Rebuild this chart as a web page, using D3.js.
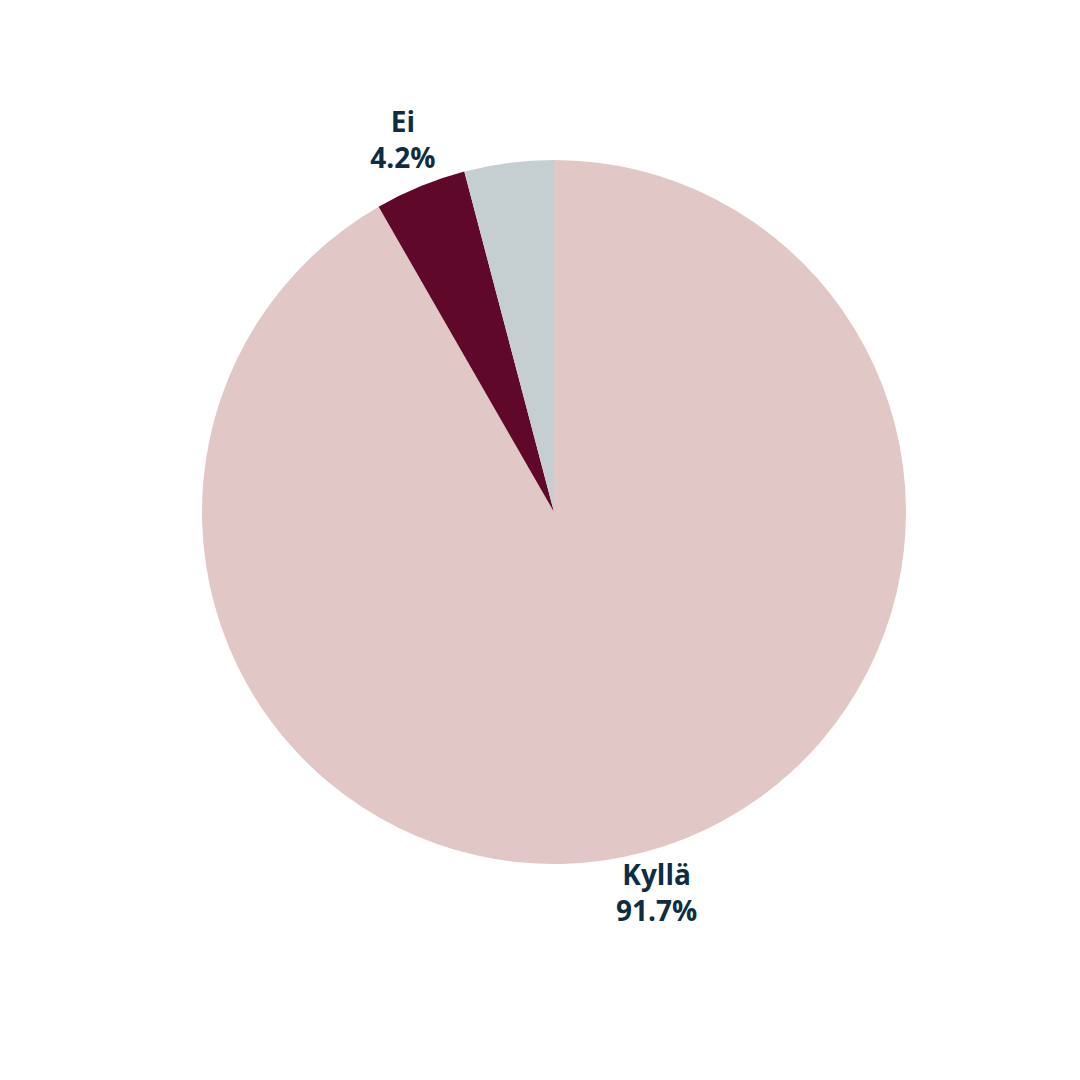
<!DOCTYPE html>
<html>
<head>
<meta charset="utf-8">
<script src="https://cdn.jsdelivr.net/npm/d3@7"></script>
<style>
  body { margin: 0; background: #fff; }
  text { font-family: "Open Sans", sans-serif; font-weight: 700; }
</style>
</head>
<body>
<div id="chart"></div>
<script>
// data
var categories = ["Kyllä", "Ei", "En osaa sanoa"];
var values = [91.7, 4.2, 4.1];
var showLabel = [true, true, false];
var colors = ["#e2c7c7", "#5f0829", "#c5cfd2"];

var width = 1080, height = 1080,
    cx = 554, cy = 512,
    radius = 352;

var svg = d3.select("#chart")
  .append("svg")
    .attr("width", width)
    .attr("height", height)
  .append("g")
    .attr("transform", "translate(" + cx + "," + cy + ")");

var data = categories.map(function(c, i) {
  return { name: c, value: values[i], color: colors[i], label: showLabel[i] };
});

var pie = d3.pie()
  .sort(null)
  .value(function(d) { return d.value; });

var arc = d3.arc().innerRadius(0).outerRadius(radius);
var labelArc = d3.arc().innerRadius(radius + 46).outerRadius(radius + 46);

var arcs = pie(data);

svg.selectAll("path")
  .data(arcs)
  .enter()
  .append("path")
    .attr("d", arc)
    .attr("fill", function(d) { return d.data.color; });

var labels = svg.selectAll(".label")
  .data(arcs.filter(function(d) { return d.data.label; }))
  .enter()
  .append("text")
    .attr("class", "label")
    .attr("text-anchor", "middle")
    .attr("fill", "#0e2d42")
    .style("font-size", "28px")
    .attr("transform", function(d) { return "translate(" + labelArc.centroid(d) + ")"; });

labels.append("tspan")
  .attr("x", 0)
  .attr("y", -12)
  .text(function(d) { return d.data.name; });

labels.append("tspan")
  .attr("x", 0)
  .attr("y", 24)
  .text(function(d) { return d3.format(".1f")(d.data.value) + "%"; });
</script>
</body>
</html>
